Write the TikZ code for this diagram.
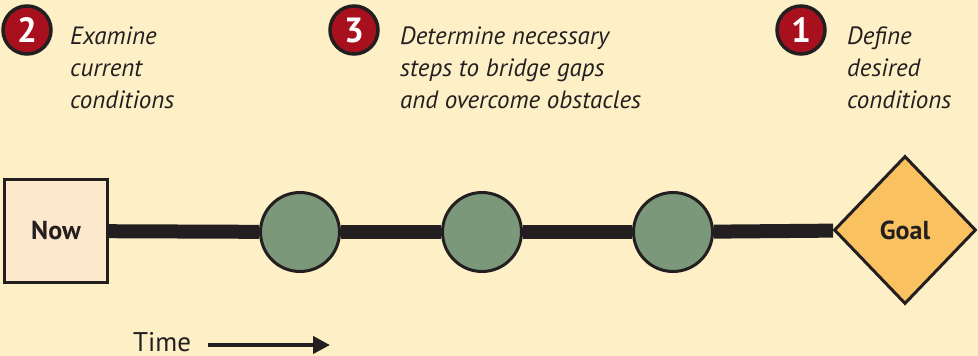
\documentclass[tikz,border=0pt]{standalone}
\usepackage{fontspec}
\setmainfont{PT Sans}
\usepackage{tikz}
\usetikzlibrary{arrows.meta,positioning,shapes.geometric}

\definecolor{bgpaper}{RGB}{253,239,198}
\definecolor{nowfill}{RGB}{254,232,204}
\definecolor{stepgreen}{RGB}{123,153,122}
\definecolor{goalfill}{RGB}{250,193,96}
\definecolor{numred}{RGB}{168,16,30}
\definecolor{ink}{RGB}{35,31,32}

\begin{document}
\begin{tikzpicture}[x=1pt,y=-1pt,
  nowbox/.style={draw=ink, line width=3.2pt, fill=nowfill, minimum size=103pt,
    inner sep=0pt, text=ink, font=\fontsize{26}{30}\selectfont\bfseries},
  stepdot/.style={circle, draw=ink, line width=3pt, fill=stepgreen,
    minimum size=79pt, inner sep=0pt},
  goalbox/.style={diamond, draw=ink, line width=3pt, fill=goalfill,
    minimum width=142pt, minimum height=148pt, inner sep=0pt, text=ink,
    font=\fontsize{26}{30}\selectfont\bfseries},
  numdot/.style={circle, draw=ink, line width=3.5pt, fill=numred,
    minimum size=48pt, inner sep=0pt, text=white,
    font=\fontsize{35}{35}\selectfont\bfseries},
  note/.style={anchor=base west, align=left, inner sep=0pt, text=ink,
    font=\fontsize{25}{32}\selectfont\itshape},
  timeline/.style={draw=ink, line width=14pt}]
  \useasboundingbox[fill=bgpaper] (0,0) rectangle (978,356);

  \node[nowbox] (now) at (56,231) {Now};
  \node[goalbox] (goal) at (905,230) {Goal};
  \foreach \n/\x in {s1/300,s2/482,s3/673}
    \node[stepdot] (\n) at (\x,232) {};
  \foreach \a/\b in {now/s1,s1/s2,s2/s3,s3/goal}
    \draw[timeline] (\a) -- (\b);

  \foreach \n/\x/\num in {n2/27/2,n3/354/3,n1/801/1}
    \node[numdot] (\n) at (\x,30) {\num};
  \node[note] (examine) at (70,108) {Examine\\current\\conditions};
  \node[note] (determine) at (400,108) {Determine necessary\\steps to bridge gaps\\and overcome obstacles};
  \node[note] (define) at (847,108) {Define\\desired\\conditions};

  % time axis
  \node[anchor=base west, inner sep=0pt, text=ink, font=\fontsize{27}{30}\selectfont] (time) at (133,351) {Time};
  \coordinate (tstart) at (208,345);
  \coordinate (tend) at (330,345);
  \draw[ink, line width=4pt, -{Triangle[length=17pt,width=17pt]}] (tstart) -- (tend);
\end{tikzpicture}
\end{document}
